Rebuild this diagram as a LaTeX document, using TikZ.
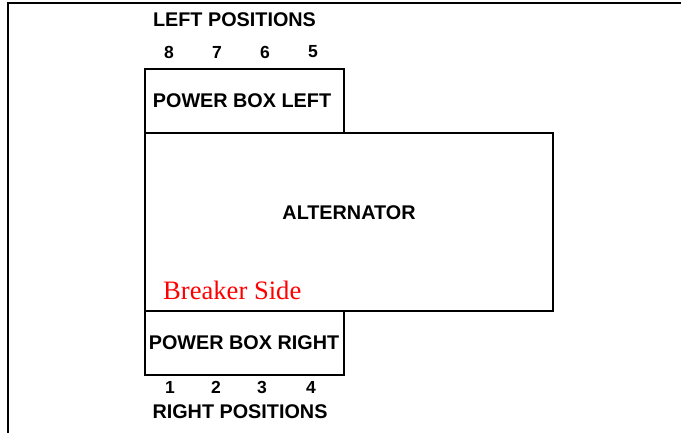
\documentclass[tikz,border=0pt]{standalone}
\usepackage{fontspec}
\setmainfont{Liberation Sans}
\newfontfamily\serifface{Liberation Serif}
\begin{document}
\begin{tikzpicture}[x=1pt,y=-1pt,
  boxstyle/.style={draw=black,line width=1.2pt,rectangle,inner sep=0pt},
  lbl/.style={font=\fontsize{19.8}{21}\selectfont\bfseries,inner sep=0pt},
  num/.style={font=\fontsize{17.5}{19}\selectfont\bfseries,inner sep=0pt}]
\useasboundingbox (0,0) rectangle (681,433);
\draw[line width=1.8pt] (8,433) -- (8,3) -- (681,3);
\node[boxstyle,minimum width=408pt,minimum height=178pt] (alt) at (349,222) {};
\node[boxstyle,minimum width=199pt,minimum height=64pt] (pbl) at (244.5,101) {};
\node[boxstyle,minimum width=199pt,minimum height=64pt] (pbr) at (244.5,343) {};
\node[lbl] (pbltext) at (242,101) {POWER BOX LEFT};
\node[lbl] (pbrtext) at (244,343) {POWER BOX RIGHT};
\node[lbl] (alttext) at (349,213) {ALTERNATOR};
\node[lbl] (lpos) at (234.5,20) {LEFT POSITIONS};
\node[lbl] (rpos) at (240,412) {RIGHT POSITIONS};
\node[num] (n8) at (169,52) {8};
\node[num] (n7) at (217,52) {7};
\node[num] (n6) at (265,52) {6};
\node[num] (n5) at (313,52) {5};
\node[num] (n1) at (170,387) {1};
\node[num] (n2) at (216,387) {2};
\node[num] (n3) at (262,387) {3};
\node[num] (n4) at (311,387) {4};
\node[anchor=base west,inner sep=0pt,text=red,font=\serifface\fontsize{26.6}{28}\selectfont] (brk) at (163,299) {Breaker Side};
\end{tikzpicture}
\end{document}
